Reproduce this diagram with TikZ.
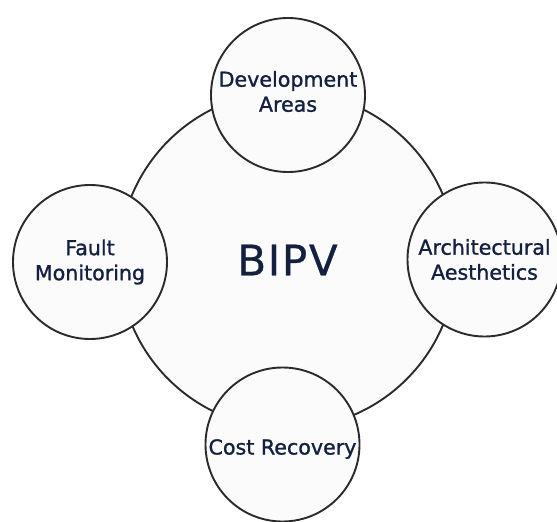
\documentclass[tikz,border=0pt]{standalone}
\usepackage{fontspec}
\setmainfont{DejaVu Sans}[FakeBold=1.2]
\newfontfamily\hubfont{DejaVu Sans}[LetterSpace=4, FakeBold=0.6]
\definecolor{ink}{HTML}{14203F}
\definecolor{rim}{HTML}{2B2B2B}
\definecolor{disc}{HTML}{FBFBFB}
\tikzset{
  hub/.style={circle, draw=rim, line width=1.9bp, fill=disc,
    minimum size=337bp, inner sep=0pt, text=ink,
    font=\hubfont\fontsize{42bp}{48bp}\selectfont},
  topic/.style={circle, draw=rim, line width=1.9bp, fill=disc,
    minimum size=154bp, inner sep=0pt},
  caption/.style={inner sep=0pt, text=ink, align=center,
    font=\fontsize{20.6bp}{25bp}\selectfont}
}
\begin{document}
\begin{tikzpicture}[x=1bp,y=-1bp]
  \clip (0,0) rectangle (557,522);
  \fill[white] (0,0) rectangle (557,522);
  % central topic
  \node[hub] (bipv) at (287.5,260) {BIPV};
  % surrounding topics
  \node[topic] (dev)   at (288,95)      {};
  \node[topic] (fault) at (90,262)      {};
  \node[topic] (arch)  at (484.5,259.5) {};
  \node[topic] (cost)  at (282.5,444.5) {};
  % their captions
  \node[caption, yshift=3.5bp]  (devtext)   at (dev)   {Development\\Areas};
  \node[caption]                (faulttext) at (fault) {Fault\\Monitoring};
  \node[caption]                (archtext)  at (arch)  {Architectural\\Aesthetics};
  \node[caption, yshift=-4.5bp] (costtext)  at (cost)  {Cost Recovery};
\end{tikzpicture}
\end{document}
